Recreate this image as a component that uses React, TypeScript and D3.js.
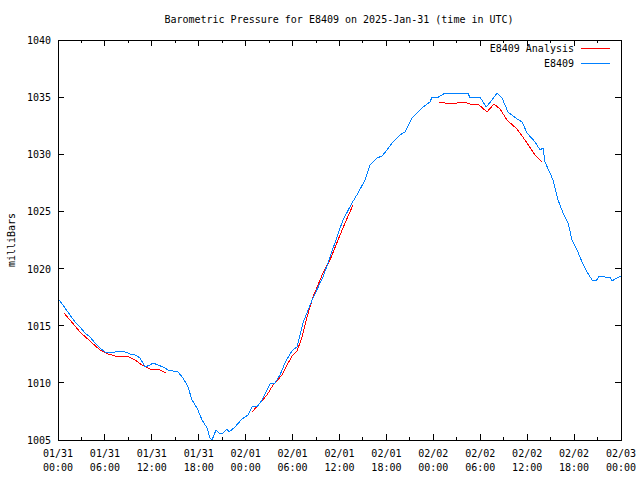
import React from "react";
import * as d3 from "d3";

const title = "Barometric Pressure for E8409 on 2025-Jan-31 (time in UTC)";
const yLabel = "milliBars";
const seriesNames = ["E8409 Analysis", "E8409"];
const seriesColors = ["#ff0000", "#0080ff"];

const yTicks = [1005, 1010, 1015, 1020, 1025, 1030, 1035, 1040];
const xTickHours = [0, 6, 12, 18, 24, 30, 36, 42, 48, 54, 60, 66, 72];
const xTickDates = ["01/31", "01/31", "01/31", "01/31", "02/01", "02/01", "02/01", "02/01", "02/02", "02/02", "02/02", "02/02", "02/03"];
const xTickTimes = ["00:00", "06:00", "12:00", "18:00", "00:00", "06:00", "12:00", "18:00", "00:00", "06:00", "12:00", "18:00", "00:00"];

// E8409 observations: hours since 2025-01-31 00:00 UTC
const obsHours = [
  0.0, 0.26, 0.9, 1.53, 2.17, 2.81, 3.45, 4.09, 4.73, 5.37, 6.01, 6.65, 7.29, 7.93, 8.57, 9.21, 9.85, 10.49,
  11.13, 11.77, 12.15, 12.79, 13.43, 14.07, 14.71, 15.35, 15.99, 16.63, 17.14, 17.78, 18.42, 19.06, 19.44,
  19.7, 20.21, 20.72, 21.1, 21.61, 21.87, 22.64, 23.53, 24.3, 24.81, 25.45, 26.09, 26.73, 27.11, 27.75,
  28.39, 29.03, 29.67, 30.05, 30.57, 31.33, 32.61, 33.89, 34.79, 36.07, 36.45, 37.6, 38.37, 39.26, 39.9,
  40.8, 41.44, 42.08, 42.84, 43.74, 44.38, 45.27, 46.04, 46.68, 47.58, 47.83, 48.47, 49.11, 49.49, 50.13,
  51.03, 51.8, 52.44, 52.69, 53.08, 53.97, 54.74, 55.51, 56.14, 56.78, 57.55, 58.7, 59.34, 59.98, 61.01,
  61.64, 62.03, 62.28, 62.92, 63.31, 63.95, 64.59, 65.23, 65.74, 66.38, 67.02, 67.66, 68.3, 68.81, 69.19,
  69.96, 70.6, 70.85, 71.49, 71.75, 72.0,
];
const obsPressure = [
  1017.3, 1017.16, 1016.55, 1015.94, 1015.33, 1014.89, 1014.36, 1014.01, 1013.49, 1013.05, 1012.7, 1012.61,
  1012.7, 1012.79, 1012.7, 1012.53, 1012.44, 1012.18, 1011.39, 1011.56, 1011.74, 1011.56, 1011.39, 1011.13,
  1011.04, 1010.95, 1010.43, 1009.64, 1008.5, 1007.8, 1006.75, 1006.05, 1005.18, 1005.0, 1005.88, 1005.53,
  1005.61, 1005.96, 1005.7, 1006.14, 1006.84, 1007.19, 1007.89, 1007.89, 1008.5, 1009.38, 1009.9, 1009.99,
  1010.69, 1011.74, 1012.53, 1012.88, 1013.14, 1015.24, 1017.43, 1019.26, 1021.01, 1023.55, 1024.25,
  1025.74, 1026.61, 1027.75, 1029.06, 1029.67, 1029.85, 1030.38, 1031.08, 1031.69, 1031.95, 1033.18,
  1033.7, 1034.14, 1034.58, 1035.01, 1034.93, 1035.19, 1035.36, 1035.28, 1035.36, 1035.28, 1035.36,
  1034.93, 1035.01, 1035.01, 1034.14, 1034.75, 1035.36, 1034.93, 1033.7, 1033.09, 1032.83, 1031.86,
  1031.08, 1030.38, 1030.55, 1029.33, 1028.36, 1027.75, 1026.0, 1024.86, 1023.99, 1022.5, 1021.63,
  1020.58, 1019.7, 1019.0, 1018.91, 1019.35, 1019.26, 1019.26, 1018.91, 1019.18, 1019.26, 1019.3,
];

// E8409 Analysis: null marks a gap between segments
const anaHours = [
  0.77, 1.53, 2.81, 4.09, 5.37, 6.39, 7.29, 8.82, 9.85, 10.74, 11.77, 12.79, 13.81, null,
  24.81, 25.83, 26.73, 27.5, 28.65, 29.29, 29.93, 30.57, 31.21, 31.85, 32.61, 33.89, 34.79, 35.81, 36.71, 37.73, null,
  48.73, 50.13, 51.03, 51.8, 52.69, 53.71, 54.86, 55.76, 56.53, 57.42, 58.7, 59.72, 61.0, 61.9,
];
const anaPressure = [
  1016.11, 1015.5, 1014.45, 1013.66, 1012.88, 1012.53, 1012.35, 1012.35, 1012.0, 1011.56, 1011.21, 1011.21, 1010.86, null,
  1007.45, 1008.24, 1008.94, 1009.81, 1010.69, 1011.56, 1012.35, 1012.79, 1014.01, 1015.76, 1017.51, 1019.61, 1020.75, 1022.5, 1023.99, 1025.56, null,
  1034.58, 1034.4, 1034.49, 1034.58, 1034.4, 1034.4, 1033.7, 1034.4, 1033.96, 1033.0, 1032.21, 1031.25, 1029.94, 1029.33,
];

const W = 640;
const H = 480;
const L = 58;
const R = 621;
const T = 40;
const B = 440;
const FONT = "'DejaVu Sans Mono', 'Liberation Mono', monospace";

export default function App() {
  const x = d3.scaleLinear().domain([0, 72]).range([L, R]);
  const y = d3.scaleLinear().domain([1005, 1040]).range([B, T]);

  const obs = obsHours.map((h, i) => [h, obsPressure[i]] as [number, number]);
  const ana = anaHours.map((h, i) => [h, anaPressure[i]] as [number | null, number | null]);

  const line = d3
    .line<[number | null, number | null]>()
    .defined((d) => d[0] !== null && d[1] !== null)
    .x((d) => x(d[0] as number))
    .y((d) => y(d[1] as number));

  const minorHours = d3.range(0, 73, 3);

  return (
    <svg
      width={W}
      height={H}
      style={{ position: "absolute", left: 0, top: 0, background: "#fff" }}
      fontFamily={FONT}
      fontSize={10}
    >
      <rect x={0} y={0} width={W} height={H} fill="#fff" />
      <text x={W / 2 + 19} y={23} textAnchor="middle" fill="#000">
        {title}
      </text>
      <text
        transform={`translate(15,${(T + B) / 2}) rotate(-90)`}
        textAnchor="middle"
        fill="#000"
      >
        {yLabel}
      </text>

      {/* ticks */}
      <g stroke="#000" strokeWidth={1} shapeRendering="crispEdges">
        {yTicks.map((v) => (
          <g key={"yt" + v}>
            <line x1={L} x2={L + 6} y1={y(v)} y2={y(v)} />
            <line x1={R} x2={R - 6} y1={y(v)} y2={y(v)} />
          </g>
        ))}
        {minorHours.map((h) => {
          const len = h % 6 === 0 ? 6 : 3;
          return (
            <g key={"xt" + h}>
              <line x1={x(h)} x2={x(h)} y1={B} y2={B - len} />
              <line x1={x(h)} x2={x(h)} y1={T} y2={T + len} />
            </g>
          );
        })}
      </g>

      {yTicks.map((v) => (
        <text key={"yl" + v} x={L - 7} y={y(v) + 4} textAnchor="end" fill="#000">
          {v}
        </text>
      ))}
      {xTickHours.map((h, i) => (
        <text key={"xl" + h} x={x(h)} textAnchor="middle" fill="#000">
          <tspan x={x(h)} y={457}>
            {xTickDates[i]}
          </tspan>
          <tspan x={x(h)} y={471}>
            {xTickTimes[i]}
          </tspan>
        </text>
      ))}

      {/* data */}
      <path d={line(ana) ?? ""} fill="none" stroke={seriesColors[0]} strokeWidth={1} shapeRendering="crispEdges" />
      <path d={line(obs) ?? ""} fill="none" stroke={seriesColors[1]} strokeWidth={1} shapeRendering="crispEdges" />

      {/* border */}
      <rect
        x={L}
        y={T}
        width={R - L}
        height={B - T}
        fill="none"
        stroke="#000"
        strokeWidth={1}
        shapeRendering="crispEdges"
      />

      {/* legend */}
      {seriesNames.map((name, i) => (
        <g key={name}>
          <text x={574} y={52 + i * 15} textAnchor="end" fill="#000">
            {name}
          </text>
          <line
            x1={581}
            x2={610}
            y1={48 + i * 15}
            y2={48 + i * 15}
            stroke={seriesColors[i]}
            strokeWidth={1}
            shapeRendering="crispEdges"
          />
        </g>
      ))}
    </svg>
  );
}
